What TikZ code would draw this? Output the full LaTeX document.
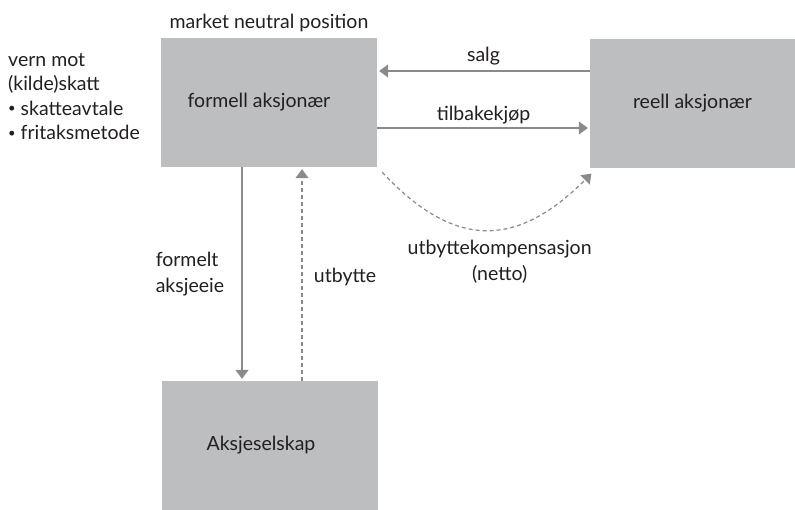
\documentclass[tikz,border=0pt]{standalone}
\usepackage{fontspec}
\setmainfont{Lato}
\usetikzlibrary{arrows.meta, positioning}
\definecolor{boxgray}{HTML}{BDBEC0}
\definecolor{linegray}{HTML}{8A8A8A}
\definecolor{inkgray}{HTML}{231F20}
\newcommand{\smallbullet}{\raisebox{0.12em}{\fontsize{13}{13}\selectfont\textbullet}}

\begin{document}
\begin{tikzpicture}[x=1pt, y=1pt,
    every node/.style={text=inkgray, font=\fontsize{19.5}{24.5}\selectfont},
    actor/.style={fill=boxgray, minimum width=216pt, minimum height=129pt, inner sep=0pt},
    flow/.style={draw=linegray, line width=1.2pt, shorten >=2pt,
        -{Triangle[width=13pt, length=9pt]}},
    payout/.style={flow, dash pattern=on 4pt off 3pt},
    twoline/.style={font=\fontsize{19.5}{26}\selectfont}]
    \useasboundingbox (0,0) rectangle (795,-510);

    % The three parties
    \node[actor] (formell) at (269,-102.5) {\hspace*{-20pt}formell aksjonær};
    \node[actor, minimum width=205pt] (reell) at (692.5,-103.5) {reell aksjonær};
    \node[actor] (selskap) at (270,-445.5) {\hspace*{-18pt}Aksjeselskap};

    % Annotations
    \node[above=2pt of formell.north] (mnp) {market neutral position};
    \node[anchor=north west, align=left, inner sep=0pt] (vern) at (8,-53)
        {vern mot\\(kilde)skatt\\\smallbullet{} skatteavtale\\\smallbullet{} fritaksmetode};

    % TOP: sale and buy-back
    \draw[flow] (reell.west |- 0,-71) -- (formell.east |- 0,-71)
        node[midway, above=2pt] {salg};
    \draw[flow] (formell.east |- 0,-128) -- (reell.west |- 0,-128)
        node[midway, above=0pt] {tilbakekjøp};

    % LEFT: ownership and dividend
    \draw[flow] ([xshift=-27pt]formell.south) -- ([xshift=-28pt]selskap.north)
        node[midway, left=14pt, align=left, twoline] {formelt\\aksjeeie};
    \draw[payout] ([xshift=32pt]selskap.north) -- ([xshift=33pt]formell.south)
        node[midway, right=8pt, yshift=-3pt] {utbytte};

    % Compensation back to the real owner
    \draw[payout] ([shift={(5,-5)}]formell.south east)
        to[out=-47, in=-135, looseness=1.3]
        node[pos=0.53, below=7pt, xshift=7pt, align=center, twoline] (komp) {utbyttekompensasjon\\(netto)}
        ([shift={(3,-4)}]reell.south west);
\end{tikzpicture}
\end{document}
